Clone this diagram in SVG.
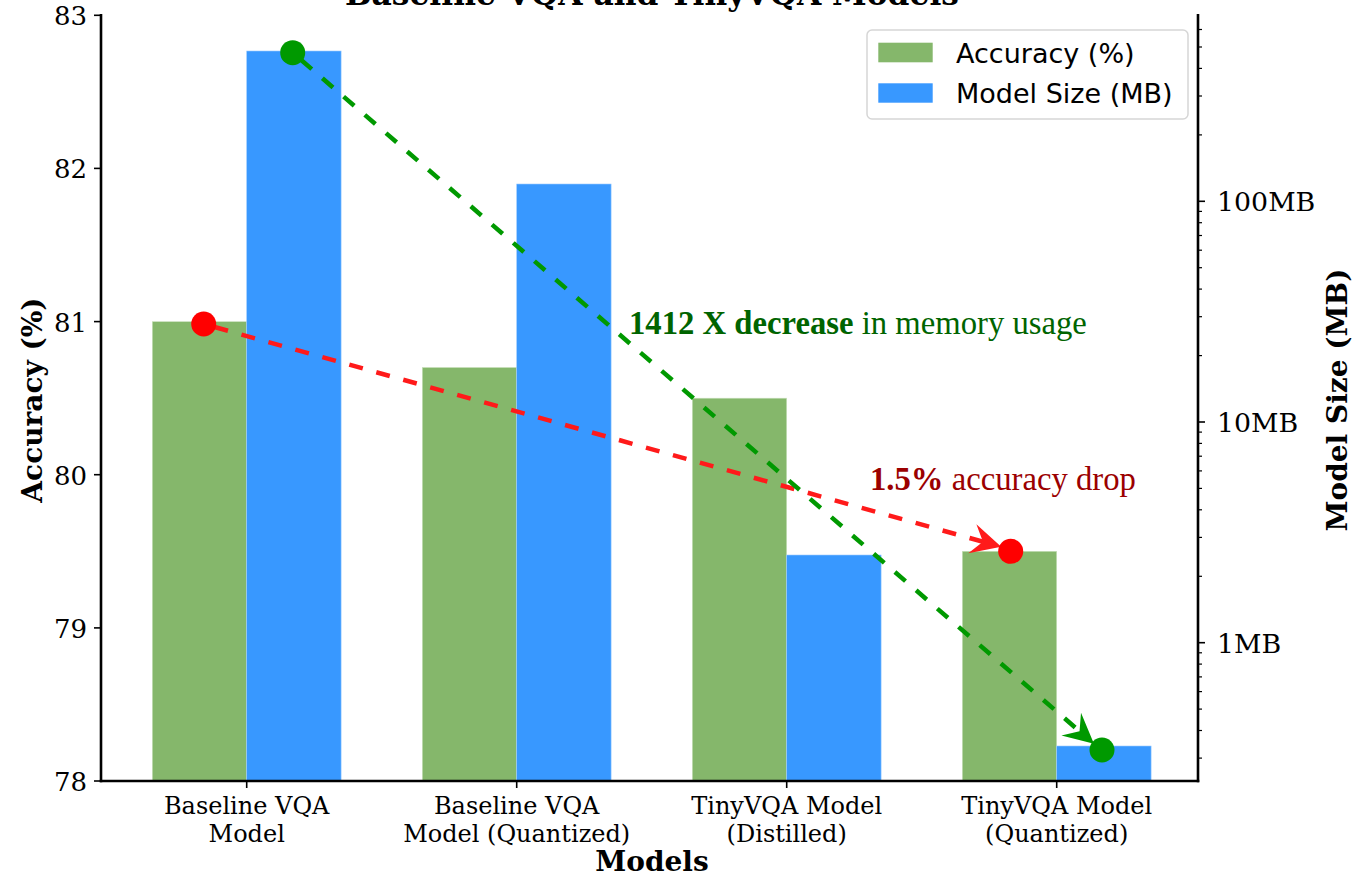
<svg xmlns="http://www.w3.org/2000/svg" width="1355" height="877" viewBox="0 0 1355 877">
<style>
.bg{fill:#ffffff}
.acc{fill:#85b76b;stroke:#c8e0bb;stroke-width:0.6}
.size{fill:#3898ff;stroke:#9ccbff;stroke-width:0.6}
.spine{stroke:#000;stroke-width:2.6;fill:none;stroke-linecap:square}
.tick{stroke:#000;stroke-width:1.6}
.mtick{stroke:#000;stroke-width:1.2}
.tl{font-family:"DejaVu Serif",serif;font-size:26px;fill:#000}
.xl{font-family:"DejaVu Serif",serif;font-size:24px;fill:#000}
.rl{font-family:"DejaVu Serif",serif;font-size:26.8px;fill:#000}
.al{font-family:"DejaVu Serif",serif;font-size:28px;font-weight:bold;fill:#000}
.title{font-family:"DejaVu Serif",serif;font-size:31.3px;font-weight:bold;fill:#000}
.leg{font-family:"DejaVu Sans",sans-serif;font-size:27px;fill:#000}
.ann{font-family:"Liberation Serif","Times New Roman",serif;font-size:32.7px}
.dashr{stroke:#ff1a1a;stroke-width:4.5;fill:none;stroke-dasharray:14 14;stroke-dashoffset:16.8}
.dashg{stroke:#009900;stroke-width:4.5;fill:none;stroke-dasharray:14 14;stroke-dashoffset:16.8}
</style>
<defs>
<marker id="headR" markerUnits="userSpaceOnUse" markerWidth="31" markerHeight="32" viewBox="0 -16 31 32" refX="12" refY="0" orient="auto">
<path d="M0,-15 L30,0 L0,15 L11,0 Z" fill="#ff1a1a"/>
</marker>
<marker id="headG" markerUnits="userSpaceOnUse" markerWidth="31" markerHeight="32" viewBox="0 -16 31 32" refX="12" refY="0" orient="auto">
<path d="M0,-15 L30,0 L0,15 L11,0 Z" fill="#009900"/>
</marker>
</defs>
<rect class="bg" x="0" y="0" width="1355" height="877"/>

<text class="title" x="652" y="5" text-anchor="middle">Baseline VQA and TinyVQA Models</text>

<g id="bars-accuracy">
<rect class="acc" x="152.3" y="321.7" width="94.4" height="459.3"/>
<rect class="acc" x="422.3" y="367.5" width="94.4" height="413.5"/>
<rect class="acc" x="692.3" y="398.2" width="94.4" height="382.8"/>
<rect class="acc" x="962.3" y="551.3" width="94.4" height="229.7"/>
</g>
<g id="bars-size">
<rect class="size" x="246.7" y="51" width="94.4" height="730"/>
<rect class="size" x="516.7" y="184" width="94.4" height="597"/>
<rect class="size" x="786.7" y="555" width="94.4" height="226"/>
<rect class="size" x="1056.7" y="746" width="94.4" height="35"/>
</g>

<g id="axes">
<line class="spine" x1="101" y1="15.3" x2="101" y2="781"/>
<line class="spine" x1="1198" y1="15.3" x2="1198" y2="781"/>
<line class="spine" x1="101" y1="781" x2="1198" y2="781"/>
<line class="tick" x1="94" y1="781" x2="101" y2="781"/>
<line class="tick" x1="94" y1="627.9" x2="101" y2="627.9"/>
<line class="tick" x1="94" y1="474.7" x2="101" y2="474.7"/>
<line class="tick" x1="94" y1="321.6" x2="101" y2="321.6"/>
<line class="tick" x1="94" y1="168.4" x2="101" y2="168.4"/>
<line class="tick" x1="94" y1="15.3" x2="101" y2="15.3"/>
<text class="tl" x="87" y="790.5" text-anchor="end">78</text>
<text class="tl" x="87" y="637.5" text-anchor="end">79</text>
<text class="tl" x="87" y="484.5" text-anchor="end">80</text>
<text class="tl" x="87" y="331.5" text-anchor="end">81</text>
<text class="tl" x="87" y="178" text-anchor="end">82</text>
<text class="tl" x="87" y="25" text-anchor="end">83</text>
<line class="tick" x1="246.7" y1="781" x2="246.7" y2="788"/>
<line class="tick" x1="516.7" y1="781" x2="516.7" y2="788"/>
<line class="tick" x1="786.7" y1="781" x2="786.7" y2="788"/>
<line class="tick" x1="1056.7" y1="781" x2="1056.7" y2="788"/>
<text class="xl" text-anchor="middle"><tspan x="246.7" y="814">Baseline VQA</tspan><tspan x="246.7" y="842">Model</tspan></text>
<text class="xl" text-anchor="middle"><tspan x="516.7" y="814">Baseline VQA</tspan><tspan x="516.7" y="842">Model (Quantized)</tspan></text>
<text class="xl" text-anchor="middle"><tspan x="786.7" y="814">TinyVQA Model</tspan><tspan x="786.7" y="842">(Distilled)</tspan></text>
<text class="xl" text-anchor="middle"><tspan x="1056.7" y="814">TinyVQA Model</tspan><tspan x="1056.7" y="842">(Quantized)</tspan></text>
<line class="tick" x1="1198" y1="201.3" x2="1205" y2="201.3"/>
<line class="tick" x1="1198" y1="422" x2="1205" y2="422"/>
<line class="tick" x1="1198" y1="642.7" x2="1205" y2="642.7"/>
<text class="rl" x="1217" y="211">100MB</text>
<text class="rl" x="1217" y="432">10MB</text>
<text class="rl" x="1217" y="652.5">1MB</text>
<g class="mtick">
<line x1="1198" y1="29.5" x2="1202" y2="29.5"/>
<line x1="1198" y1="47" x2="1202" y2="47"/>
<line x1="1198" y1="68.4" x2="1202" y2="68.4"/>
<line x1="1198" y1="96" x2="1202" y2="96"/>
<line x1="1198" y1="134.9" x2="1202" y2="134.9"/>
<line x1="1198" y1="211.4" x2="1202" y2="211.4"/>
<line x1="1198" y1="222.7" x2="1202" y2="222.7"/>
<line x1="1198" y1="235.5" x2="1202" y2="235.5"/>
<line x1="1198" y1="250.2" x2="1202" y2="250.2"/>
<line x1="1198" y1="267.7" x2="1202" y2="267.7"/>
<line x1="1198" y1="289.1" x2="1202" y2="289.1"/>
<line x1="1198" y1="316.7" x2="1202" y2="316.7"/>
<line x1="1198" y1="355.6" x2="1202" y2="355.6"/>
<line x1="1198" y1="432.1" x2="1202" y2="432.1"/>
<line x1="1198" y1="443.4" x2="1202" y2="443.4"/>
<line x1="1198" y1="456.2" x2="1202" y2="456.2"/>
<line x1="1198" y1="470.9" x2="1202" y2="470.9"/>
<line x1="1198" y1="488.4" x2="1202" y2="488.4"/>
<line x1="1198" y1="509.8" x2="1202" y2="509.8"/>
<line x1="1198" y1="537.4" x2="1202" y2="537.4"/>
<line x1="1198" y1="576.3" x2="1202" y2="576.3"/>
<line x1="1198" y1="652.8" x2="1202" y2="652.8"/>
<line x1="1198" y1="664.1" x2="1202" y2="664.1"/>
<line x1="1198" y1="676.9" x2="1202" y2="676.9"/>
<line x1="1198" y1="691.6" x2="1202" y2="691.6"/>
<line x1="1198" y1="709.1" x2="1202" y2="709.1"/>
<line x1="1198" y1="730.5" x2="1202" y2="730.5"/>
<line x1="1198" y1="758.1" x2="1202" y2="758.1"/>
</g>
<text class="al" transform="translate(42,400) rotate(-90)" text-anchor="middle">Accuracy (%)</text>
<text class="al" transform="translate(1347,400) rotate(-90)" text-anchor="middle">Model Size (MB)</text>
<text class="al" x="652" y="871" text-anchor="middle">Models</text>
</g>

<g id="connectors">
<line class="dashr" x1="203.7" y1="324" x2="983.9" y2="542" marker-end="url(#headR)"/>
<line class="dashg" x1="292.7" y1="52.7" x2="1080.3" y2="731.9" marker-end="url(#headG)"/>
</g>

<g id="markers">
<circle cx="203.7" cy="324" r="12.5" fill="#ff0000"/>
<circle cx="1010.7" cy="551.3" r="12.5" fill="#ff0000"/>
<circle cx="292.7" cy="52.7" r="12.5" fill="#009900"/>
<circle cx="1102" cy="750" r="12.5" fill="#009900"/>
</g>

<g id="annotations">
<text class="ann" x="629" y="334" fill="#006400"><tspan font-weight="bold">1412 X decrease</tspan> in memory usage</text>
<text class="ann" x="870" y="490" fill="#9b0000"><tspan font-weight="bold">1.5%</tspan> accuracy drop</text>
</g>

<g id="legend">
<rect x="867" y="30" width="321" height="89" rx="5" ry="5" fill="#ffffff" fill-opacity="0.8" stroke="#d6d6d6" stroke-width="1.5"/>
<rect x="878.3" y="42.7" width="54.4" height="19.6" fill="#85b76b"/>
<rect x="878.3" y="83.3" width="54.4" height="19.4" fill="#3898ff"/>
<text class="leg" x="956" y="62.7">Accuracy (%)</text>
<text class="leg" x="956" y="102.7">Model Size (MB)</text>
</g>
</svg>
